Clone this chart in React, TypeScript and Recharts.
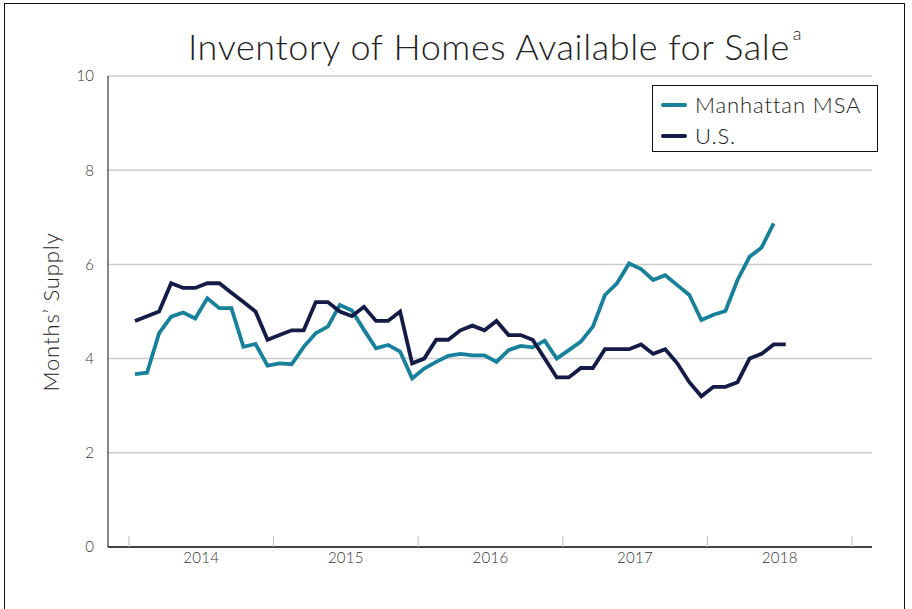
import React from "react";
import { LineChart, Line, XAxis, YAxis, CartesianGrid, Legend } from "recharts";

// Monthly, Jan 2014 onward
const manhattan = [
  3.67, 3.7, 4.54, 4.89, 4.98, 4.85, 5.28, 5.07, 5.07, 4.25, 4.31, 3.85,
  3.9, 3.88, 4.25, 4.54, 4.68, 5.14, 5.02, 4.61, 4.22, 4.29, 4.15, 3.58,
  3.79, 3.93, 4.06, 4.1, 4.07, 4.07, 3.93, 4.18, 4.27, 4.24, 4.38, 4.0,
  4.18, 4.36, 4.68, 5.35, 5.6, 6.02, 5.9, 5.67, 5.77, 5.56, 5.35, 4.82,
  4.93, 5.01, 5.67, 6.16, 6.36, 6.87,
];
const us = [
  4.8, 4.9, 5.0, 5.6, 5.5, 5.5, 5.6, 5.6, 5.4, 5.2, 5.0, 4.4,
  4.5, 4.6, 4.6, 5.2, 5.2, 5.0, 4.9, 5.1, 4.8, 4.8, 5.0, 3.9,
  4.0, 4.4, 4.4, 4.6, 4.7, 4.6, 4.8, 4.5, 4.5, 4.4, 4.0, 3.6,
  3.6, 3.8, 3.8, 4.2, 4.2, 4.2, 4.3, 4.1, 4.2, 3.9, 3.5, 3.2,
  3.4, 3.4, 3.5, 4.0, 4.1, 4.3, 4.3,
];
const years = ["2014", "2015", "2016", "2017", "2018"];
const yTicks = [0, 2, 4, 6, 8, 10];

const data = us.map((u, i) => ({
  m: i + 0.5,
  manhattan: i < manhattan.length ? manhattan[i] : null,
  us: u,
}));

// ticks: year boundaries (tick marks) and mid-year (labels)
const xTicks: number[] = [];
for (let i = 0; i <= years.length * 2; i++) xTicks.push(i * 6);

const TEAL = "#17809a";
const NAVY = "#141b47";
const FONT = "Lato, 'Open Sans', sans-serif";

const YearTick = (props: any) => {
  const { x, y, payload } = props;
  const v = payload.value as number;
  if (v % 12 === 0) {
    return <line x1={x} x2={x} y1={y - 11} y2={y} stroke="#bbbbbb" strokeWidth={1} />;
  }
  const idx = Math.floor(v / 12);
  return (
    <text x={x} y={y + 16} textAnchor="middle" fill="#333" fontSize={15} fontFamily={FONT} fontWeight={300} letterSpacing={0.3}>
      {years[idx]}
    </text>
  );
};

const LegendBox = () => (
  <div
    style={{
      border: "1px solid #111",
      width: 226,
      height: 67,
      boxSizing: "border-box",
      padding: "3px 0 0 8px",
      background: "#fff",
      fontFamily: FONT,
      fontWeight: 300,
      fontSize: 22,
      letterSpacing: 0.9,
      color: "#222",
      textAlign: "left",
    }}
  >
    {[
      { name: "Manhattan MSA", c: TEAL },
      { name: "U.S.", c: NAVY },
    ].map((e) => (
      <div key={e.name} style={{ display: "flex", alignItems: "center", height: 31 }}>
        <span style={{ display: "inline-block", width: 26, height: 4, borderRadius: 2, background: e.c, marginRight: 8 }} />
        <span>{e.name}</span>
      </div>
    ))}
  </div>
);

export default function App() {
  return (
    <div style={{ position: "absolute", left: 0, top: 0, width: 912, height: 609, background: "#fff", overflow: "hidden" }}>
      <div
        style={{
          position: "absolute",
          left: 4,
          top: 3,
          width: 901,
          height: 620,
          borderLeft: "1.5px solid #111",
          borderTop: "1.5px solid #111",
          borderRight: "1.5px solid #111",
          boxSizing: "border-box",
        }}
      />
      <div
        style={{
          position: "absolute",
          left: 0,
          width: 990,
          top: 24,
          textAlign: "center",
          fontFamily: FONT,
          fontWeight: 300,
          fontSize: 36,
          letterSpacing: 0.6,
          color: "#222",
          whiteSpace: "nowrap",
        }}
      >
        Inventory of Homes Available for Sale
        <sup style={{ fontSize: 18, verticalAlign: "top", position: "relative", top: -2, marginLeft: 3 }}>a</sup>
      </div>
      <div
        style={{
          position: "absolute",
          left: 50,
          top: 312,
          transform: "translate(-50%, -50%) rotate(-90deg)",
          fontFamily: FONT,
          fontWeight: 300,
          fontSize: 22,
          letterSpacing: 0.9,
          color: "#222",
          whiteSpace: "nowrap",
        }}
      >
        Months’ Supply
      </div>
      <div style={{ position: "absolute", left: 0, top: 0 }}>
        <LineChart width={912} height={609} data={data} margin={{ top: 76, right: 40, bottom: 32, left: 68 }}>
          <CartesianGrid horizontal={true} vertical={false} stroke="#cccccc" strokeWidth={1.5} />
          <XAxis
            dataKey="m"
            type="number"
            domain={[-1.74, 61.66]}
            allowDataOverflow
            ticks={xTicks}
            interval={0}
            height={30}
            tickSize={0}
            tickMargin={0}
            tick={<YearTick />}
            axisLine={{ stroke: "#111", strokeWidth: 1.5 }}
          />
          <YAxis
            type="number"
            domain={[0, 10]}
            ticks={yTicks}
            interval={0}
            width={40}
            tickLine={false}
            tickMargin={8}
            tick={{ fill: "#333", fontSize: 15, fontFamily: FONT, fontWeight: 300 }}
            axisLine={{ stroke: "#111", strokeWidth: 1 }}
          />
          <Legend
            layout="vertical"
            verticalAlign="middle"
            align="center"
            content={<LegendBox />}
            wrapperStyle={{ position: "absolute", left: 652, top: 85, width: 226 }}
          />
          <Line
            type="linear"
            dataKey="manhattan"
            name="Manhattan MSA"
            stroke={TEAL}
            strokeWidth={3.8}
            dot={false}
            isAnimationActive={false}
          />
          <Line
            type="linear"
            dataKey="us"
            name="U.S."
            stroke={NAVY}
            strokeWidth={3.8}
            dot={false}
            isAnimationActive={false}
          />
        </LineChart>
      </div>
    </div>
  );
}
